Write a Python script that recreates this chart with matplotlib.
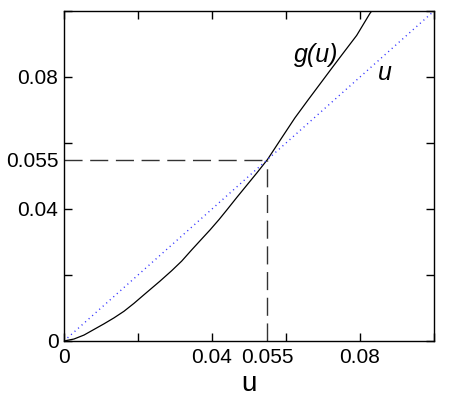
import matplotlib
matplotlib.use('Agg')
from matplotlib import pyplot as plt

plt.rcParams['font.family'] = ['Liberation Sans', 'DejaVu Sans']

# g(u)
u_pts = [0, 0.0027, 0.0054, 0.0081, 0.0108, 0.0135, 0.0162, 0.0189, 0.0216,
         0.0259, 0.0291, 0.0318, 0.0345, 0.0372, 0.0395, 0.0419, 0.044, 0.0467,
         0.0494, 0.0521, 0.055, 0.0588, 0.0624, 0.066, 0.0692, 0.0724, 0.0755,
         0.0791, 0.0827, 0.0835]
g_pts = [0, 0.0006, 0.0018, 0.0035, 0.0052, 0.007, 0.009, 0.0114, 0.014,
         0.0181, 0.0213, 0.0242, 0.0276, 0.0309, 0.0337, 0.0368, 0.0397, 0.0435,
         0.0472, 0.0509, 0.055, 0.0615, 0.0676, 0.0731, 0.0779, 0.0827, 0.0873,
         0.0926, 0.0993, 0.1005]

# identity line u
line_u = [0, 0.1]

fixed_point = 0.055

major_ticks = [0, 0.02, 0.04, 0.06, 0.08, 0.1]
major_labels = ['0', '', '0.04', '', '0.08', '']

fig = plt.figure(figsize=(4.52, 3.97), dpi=100)
ax = fig.add_axes([64 / 452, 1 - 341 / 397, 370 / 452, 330 / 397])

ax.plot(u_pts, g_pts, color='black', lw=0.9)
ax.plot(line_u, line_u, color='#3333ff', lw=1.0, dashes=(0.8, 2.6))
ax.plot([0, fixed_point], [fixed_point, fixed_point], color='#333333', lw=1.0,
        dashes=(13, 5.5))
ax.plot([fixed_point, fixed_point], [0, fixed_point], color='#333333', lw=1.0,
        dashes=(13, 5.5))

ax.text(0.0622, 0.0846, 'g(u)', fontsize=18, style='italic')
ax.text(0.0848, 0.079, 'u', fontsize=18, style='italic')

ax.set_xlim(0, 0.1)
ax.set_ylim(0, 0.1)
ax.set_xticks(major_ticks, major_labels)
ax.set_yticks(major_ticks, major_labels)
ax.set_xticks([fixed_point], ['0.055'], minor=True)
ax.set_yticks([fixed_point], ['0.055'], minor=True)
ax.tick_params(which='major', direction='in', length=6, width=1,
               top=True, right=True, labelsize=15, pad=5)
ax.tick_params(which='minor', length=0, labelsize=15, pad=5)
ax.tick_params(axis='y', which='both', pad=4)
ax.set_xlabel('u', fontsize=20, labelpad=3)

for s in ax.spines.values():
    s.set_linewidth(1.0)

fig.savefig('out.png', dpi=100)
